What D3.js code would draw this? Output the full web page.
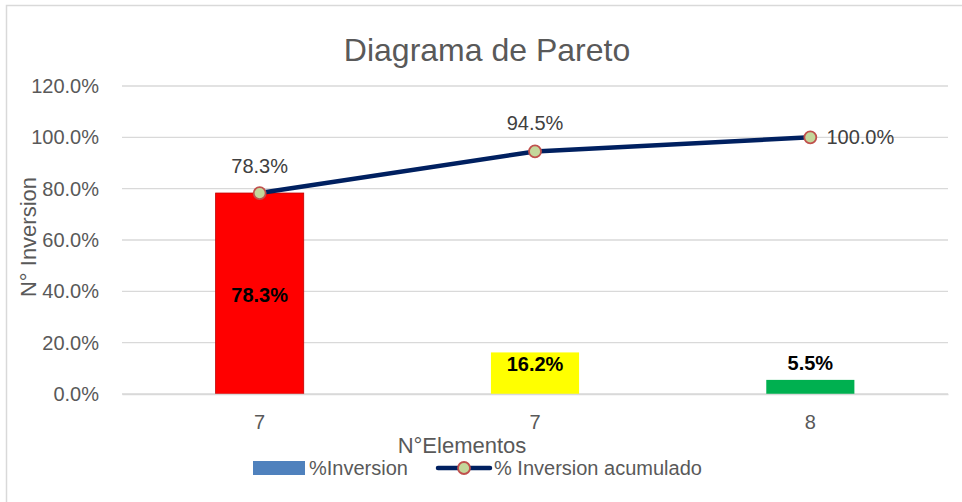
<!DOCTYPE html>
<html>
<head>
<meta charset="utf-8">
<script src="https://cdn.jsdelivr.net/npm/d3@7"></script>
<style>
  body { margin: 0; background: #fff; }
  text { font-family: "Liberation Sans", "DejaVu Sans", sans-serif; }
</style>
</head>
<body>
<div id="chart"></div>
<script>
// Data
var categories = ["7", "7", "8"];
var pctInversion = [78.3, 16.2, 5.5];
var pctAcumulado = [78.3, 94.5, 100.0];
var barColors = ["#ff0000", "#ffff00", "#00b050"];
var yTicks = [0, 20, 40, 60, 80, 100, 120];

var W = 962, H = 502;
var margin = {top: 86, right: 14, bottom: 108, left: 122};
var width = W - margin.left - margin.right,
    height = H - margin.top - margin.bottom;

var svg = d3.select("#chart").append("svg")
    .attr("width", W)
    .attr("height", H);

// chart frame
svg.append("rect")
    .attr("x", 6.5).attr("y", 5.5)
    .attr("width", W).attr("height", H)
    .attr("fill", "none")
    .attr("stroke", "#d9d9d9")
    .attr("stroke-width", 1.5);

// title
svg.append("text")
    .attr("x", 487).attr("y", 61)
    .attr("text-anchor", "middle")
    .attr("font-size", 32)
    .attr("fill", "#595959")
    .text("Diagrama de Pareto");

var g = svg.append("g")
    .attr("transform", "translate(" + margin.left + "," + margin.top + ")");

var idx = categories.map(function(d, i) { return i; });
var x = d3.scaleBand().domain(idx).range([0, width]).paddingInner(0.68).paddingOuter(0.34);
var y = d3.scaleLinear().domain([0, 120]).range([height, 0]);

// gridlines
g.selectAll(".grid")
    .data(yTicks)
    .enter().append("line")
    .attr("x1", 0).attr("x2", width)
    .attr("y1", function(d) { return y(d); })
    .attr("y2", function(d) { return y(d); })
    .attr("stroke", "#d9d9d9")
    .attr("stroke-width", 1.3);

// y axis labels
var yAxis = g.append("g")
    .call(d3.axisLeft(y).tickValues(yTicks).tickSize(0).tickPadding(23)
        .tickFormat(function(d) { return d.toFixed(1) + "%"; }));
yAxis.select(".domain").remove();
yAxis.selectAll("text")
    .attr("font-size", 20)
    .attr("fill", "#595959")
    .attr("font-family", "Liberation Sans, sans-serif");

// bars
g.selectAll(".bar")
    .data(pctInversion)
    .enter().append("rect")
    .attr("x", function(d, i) { return x(i); })
    .attr("y", function(d) { return y(d); })
    .attr("width", x.bandwidth())
    .attr("height", function(d) { return height - y(d); })
    .attr("fill", function(d, i) { return barColors[i]; })
    .attr("stroke", function(d, i) { return i == 0 ? "#c00000" : "none"; })
    .attr("stroke-width", 0.8);

// bar labels
var barLabelY = [function(d) { return y(d / 2) + 8; },
                 function(d) { return y(d) + 19; },
                 function(d) { return y(d) - 10; }];
g.selectAll(".barlabel")
    .data(pctInversion)
    .enter().append("text")
    .attr("x", function(d, i) { return x(i) + x.bandwidth() / 2; })
    .attr("y", function(d, i) { return barLabelY[i](d); })
    .attr("text-anchor", "middle")
    .attr("font-size", 20)
    .attr("font-weight", "bold")
    .attr("fill", "#000")
    .text(function(d) { return d.toFixed(1) + "%"; });

// x axis
var xAxis = g.append("g")
    .attr("transform", "translate(0," + height + ")")
    .call(d3.axisBottom(x).tickSize(0).tickPadding(21)
        .tickFormat(function(i) { return categories[i]; }));
xAxis.select(".domain").attr("stroke", "#d9d9d9").attr("stroke-width", 1.3);
xAxis.selectAll("text")
    .attr("font-size", 20)
    .attr("fill", "#595959")
    .attr("font-family", "Liberation Sans, sans-serif");

// cumulative line
var cx = function(d, i) { return x(i) + x.bandwidth() / 2; };
var line = d3.line()
    .x(function(d, i) { return cx(d, i); })
    .y(function(d) { return y(d); });

g.append("path")
    .datum(pctAcumulado)
    .attr("d", line)
    .attr("fill", "none")
    .attr("stroke", "#002060")
    .attr("stroke-width", 4.5);

g.selectAll(".dot")
    .data(pctAcumulado)
    .enter().append("circle")
    .attr("cx", cx)
    .attr("cy", function(d) { return y(d); })
    .attr("r", 6)
    .attr("fill", "#c4d79b")
    .attr("stroke", "#c0504d")
    .attr("stroke-width", 1.8);

// line labels
var lineLabelDx = [0, 0, 50];
var lineLabelDy = [-20, -21, 7];
g.selectAll(".linelabel")
    .data(pctAcumulado)
    .enter().append("text")
    .attr("x", function(d, i) { return cx(d, i) + lineLabelDx[i]; })
    .attr("y", function(d, i) { return y(d) + lineLabelDy[i]; })
    .attr("text-anchor", "middle")
    .attr("font-size", 20)
    .attr("fill", "#404040")
    .text(function(d) { return d.toFixed(1) + "%"; });

// axis titles
svg.append("text")
    .attr("x", 462).attr("y", 453)
    .attr("text-anchor", "middle")
    .attr("font-size", 22)
    .attr("fill", "#595959")
    .text("N°Elementos");

svg.append("text")
    .attr("transform", "translate(36,237) rotate(-90)")
    .attr("text-anchor", "middle")
    .attr("font-size", 22)
    .attr("fill", "#595959")
    .text("N° Inversion");

// legend
var legend = svg.append("g");
legend.append("rect")
    .attr("x", 253).attr("y", 461)
    .attr("width", 52).attr("height", 14)
    .attr("fill", "#4f81bd");
legend.append("text")
    .attr("x", 309).attr("y", 475)
    .attr("font-size", 20)
    .attr("fill", "#595959")
    .text("%Inversion");
legend.append("line")
    .attr("x1", 438).attr("x2", 490)
    .attr("y1", 468).attr("y2", 468)
    .attr("stroke", "#002060")
    .attr("stroke-width", 4.5)
    .attr("stroke-linecap", "round");
legend.append("circle")
    .attr("cx", 464).attr("cy", 468).attr("r", 6)
    .attr("fill", "#c4d79b")
    .attr("stroke", "#c0504d")
    .attr("stroke-width", 1.8);
legend.append("text")
    .attr("x", 494).attr("y", 475)
    .attr("font-size", 20)
    .attr("fill", "#595959")
    .text("% Inversion acumulado");
</script>
</body>
</html>
